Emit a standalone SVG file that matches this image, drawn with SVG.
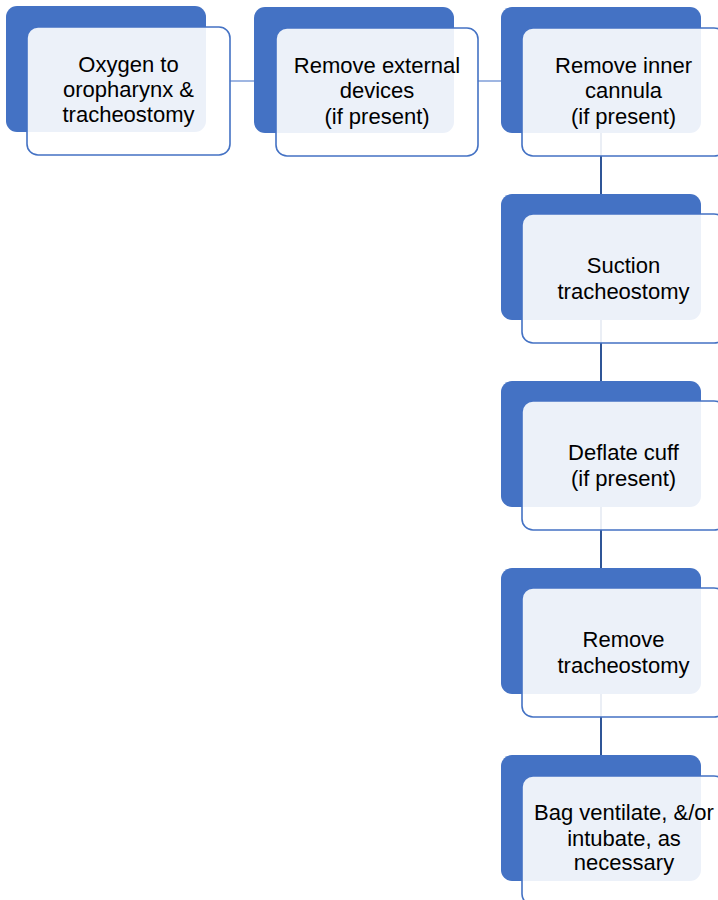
<svg xmlns="http://www.w3.org/2000/svg" width="718" height="900" viewBox="0 0 718 900">
<style>
.back{fill:#4472C4;}
.front{fill:#FFFFFF;fill-opacity:0.9;stroke:#4472C4;stroke-width:1.6;}
.t{font-family:"Liberation Sans",Arial,sans-serif;font-size:22px;fill:#000;text-anchor:middle;}
.hc{stroke:#7F9ED8;stroke-width:1.5;fill:none;}
.vc{stroke:#2F5597;stroke-width:2;fill:none;}
</style>
<rect width="718" height="900" fill="#FFFFFF"/>
<g id="connectors">
<line class="hc" x1="229" y1="81" x2="255" y2="81"/>
<line class="hc" x1="477" y1="81" x2="502" y2="81"/>
<line class="vc" x1="601" y1="132" x2="601" y2="195"/>
<line class="vc" x1="601" y1="319" x2="601" y2="382"/>
<line class="vc" x1="601" y1="506" x2="601" y2="569"/>
<line class="vc" x1="601" y1="693" x2="601" y2="756"/>
</g>
<g id="n1">
<rect class="back" x="6" y="6" width="200" height="126" rx="11"/>
<rect class="front" x="27" y="27" width="203" height="128" rx="11"/>
<text class="t" x="128.5" y="72">Oxygen to</text>
<text class="t" x="128.5" y="97">oropharynx &amp;</text>
<text class="t" x="128.5" y="122">tracheostomy</text>
</g>
<g id="n2">
<rect class="back" x="254" y="7" width="200" height="126" rx="11"/>
<rect class="front" x="276" y="28" width="202" height="128" rx="11"/>
<text class="t" x="377" y="72.5">Remove external</text>
<text class="t" x="377" y="98">devices</text>
<text class="t" x="377" y="123.5">(if present)</text>
</g>
<g id="n3">
<rect class="back" x="501" y="7" width="200" height="126" rx="11"/>
<rect class="front" x="522" y="28" width="203" height="128" rx="11"/>
<text class="t" x="623.5" y="72.5">Remove inner</text>
<text class="t" x="623.5" y="98">cannula</text>
<text class="t" x="623.5" y="123.5">(if present)</text>
</g>
<g id="n4">
<rect class="back" x="501" y="194" width="200" height="126" rx="11"/>
<rect class="front" x="522" y="214" width="203" height="129" rx="11"/>
<text class="t" x="623.5" y="273">Suction</text>
<text class="t" x="623.5" y="298.5">tracheostomy</text>
</g>
<g id="n5">
<rect class="back" x="501" y="381" width="200" height="126" rx="11"/>
<rect class="front" x="522" y="401" width="203" height="129" rx="11"/>
<text class="t" x="623.5" y="460">Deflate cuff</text>
<text class="t" x="623.5" y="485.5">(if present)</text>
</g>
<g id="n6">
<rect class="back" x="501" y="568" width="200" height="126" rx="11"/>
<rect class="front" x="522" y="588" width="203" height="129" rx="11"/>
<text class="t" x="623.5" y="647">Remove</text>
<text class="t" x="623.5" y="672.5">tracheostomy</text>
</g>
<g id="n7">
<rect class="back" x="501" y="755" width="200" height="126" rx="11"/>
<rect class="front" x="522" y="776" width="203" height="129" rx="11"/>
<text class="t" x="624" y="820">Bag ventilate, &amp;/or</text>
<text class="t" x="624" y="846">intubate, as</text>
<text class="t" x="624" y="870">necessary</text>
</g>
</svg>
